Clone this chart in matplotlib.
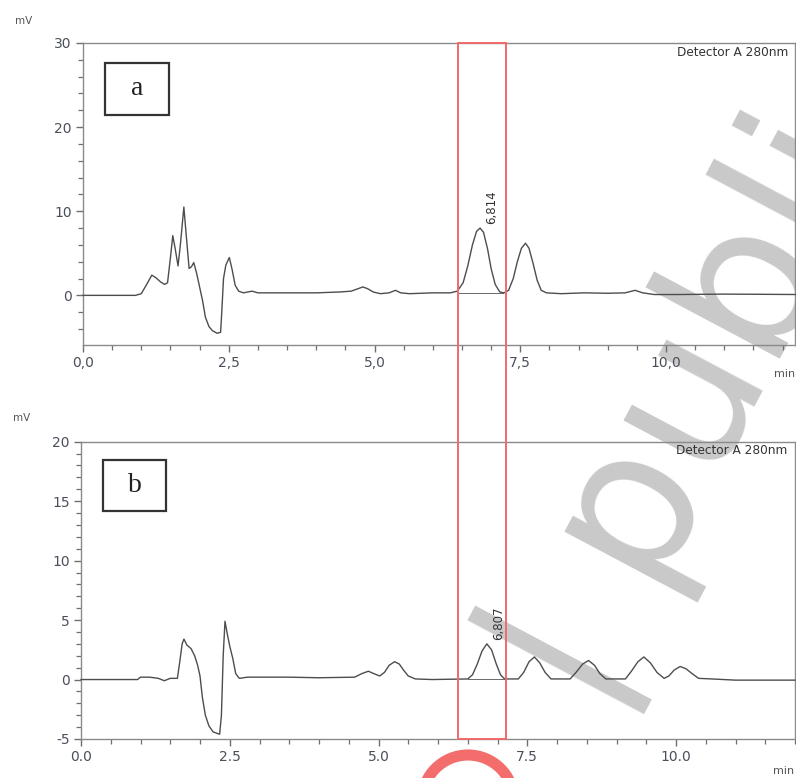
import matplotlib
matplotlib.use("Agg")
import matplotlib.pyplot as plt
from matplotlib.patches import Rectangle, Arc
from matplotlib.transforms import blended_transform_factory
from matplotlib.ticker import MultipleLocator, FuncFormatter

# ---- chromatogram a (Detector A 280nm) ----
time_a = [0.00, 0.90, 1.00, 1.10, 1.18, 1.25, 1.33, 1.40, 1.45, 1.50, 1.54, 1.58,
          1.63, 1.67, 1.73, 1.77, 1.82, 1.86, 1.90, 1.95, 2.00, 2.05, 2.10, 2.16,
          2.22, 2.30, 2.36, 2.38, 2.41, 2.45, 2.51, 2.56, 2.61, 2.67, 2.75, 2.90,
          3.00, 3.50, 4.00, 4.40, 4.60, 4.72, 4.80, 4.88, 4.98, 5.10, 5.25, 5.36,
          5.45, 5.60, 6.00, 6.30, 6.42, 6.52, 6.60, 6.68, 6.75, 6.81, 6.87, 6.94,
          7.00, 7.07, 7.15, 7.22, 7.30, 7.38, 7.45, 7.52, 7.59, 7.65, 7.72, 7.79,
          7.86, 7.95, 8.20, 8.60, 9.00, 9.30, 9.47, 9.60, 9.80, 10.20, 11.00, 12.30]
signal_a = [0.0, 0.0, 0.2, 1.4, 2.4, 2.1, 1.6, 1.3, 1.5, 4.5, 7.1, 5.6,
            3.5, 6.0, 10.5, 7.2, 3.2, 3.4, 3.9, 2.6, 1.0, -0.6, -2.6, -3.7,
            -4.2, -4.5, -4.4, -2.0, 2.0, 3.6, 4.5, 3.0, 1.2, 0.5, 0.3, 0.5,
            0.3, 0.3, 0.3, 0.4, 0.5, 0.8, 1.0, 0.8, 0.4, 0.2, 0.3, 0.6,
            0.3, 0.2, 0.3, 0.3, 0.5, 1.5, 3.5, 6.0, 7.6, 8.0, 7.5, 5.5,
            3.2, 1.3, 0.4, 0.3, 0.6, 2.0, 4.0, 5.6, 6.2, 5.6, 3.8, 1.8,
            0.6, 0.3, 0.2, 0.3, 0.25, 0.3, 0.6, 0.3, 0.1, 0.1, 0.15, 0.1]
peak_a = {"label": "6,814", "time": 6.81, "height": 8.0, "start": 6.42, "end": 7.20, "base": 0.3}

# ---- chromatogram b (Detector A 280nm) ----
time_b = [0.00, 0.95, 1.00, 1.15, 1.30, 1.40, 1.50, 1.62, 1.66, 1.70, 1.73, 1.78,
          1.85, 1.91, 1.96, 2.00, 2.04, 2.09, 2.15, 2.22, 2.33, 2.36, 2.39, 2.42,
          2.46, 2.50, 2.55, 2.60, 2.66, 2.80, 3.50, 4.00, 4.60, 4.72, 4.83, 4.92,
          5.02, 5.10, 5.18, 5.27, 5.35, 5.42, 5.50, 5.62, 5.90, 6.50, 6.58, 6.66,
          6.74, 6.82, 6.90, 6.98, 7.05, 7.12, 7.35, 7.44, 7.53, 7.62, 7.71, 7.80,
          7.90, 8.22, 8.32, 8.43, 8.53, 8.63, 8.72, 8.82, 9.15, 9.25, 9.36, 9.46,
          9.57, 9.68, 9.80, 9.88, 9.97, 10.07, 10.17, 10.27, 10.38, 10.60, 11.00, 12.00]
signal_b = [0.0, 0.0, 0.2, 0.2, 0.1, -0.1, 0.1, 0.1, 1.5, 3.0, 3.4, 2.9,
            2.6, 2.0, 1.2, 0.3, -1.5, -3.0, -3.9, -4.4, -4.6, -3.0, 2.0, 4.9,
            3.8, 2.8, 1.8, 0.5, 0.1, 0.2, 0.2, 0.15, 0.2, 0.5, 0.7, 0.5,
            0.3, 0.6, 1.2, 1.5, 1.3, 0.8, 0.3, 0.05, 0.0, 0.05, 0.4, 1.3,
            2.4, 3.0, 2.5, 1.3, 0.4, 0.05, 0.05, 0.6, 1.5, 1.9, 1.4, 0.6,
            0.05, 0.05, 0.6, 1.3, 1.6, 1.2, 0.5, 0.05, 0.05, 0.7, 1.5, 1.9,
            1.4, 0.6, 0.1, 0.3, 0.8, 1.1, 0.9, 0.5, 0.1, 0.05, -0.05, -0.05]
peak_b = {"label": "6,807", "time": 6.82, "height": 3.0, "start": 6.50, "end": 7.12, "base": 0.05}

# highlighted retention window (min), shared by both runs
window_start = 6.43
window_end = 7.25

W, H = 796, 778
fig = plt.figure(figsize=(W / 100, H / 100), dpi=100)
fig.patch.set_facecolor("white")

def px_axes(left, top, right, bottom):
    return [left / W, 1 - bottom / H, (right - left) / W, (bottom - top) / H]

ax1 = fig.add_axes(px_axes(83, 43, 795, 345))
ax2 = fig.add_axes(px_axes(81, 441.7, 795, 739))

spine_col = "#8a8a8a"
tick_col = "#6f6f6f"
label_col = "#4a4f5a"
trace_col = "#4d4d4d"

def style(ax, xmax, ylim, ymajor, yminor, fmt):
    ax.patch.set_visible(False)
    ax.set_xlim(0, xmax)
    ax.set_ylim(*ylim)
    for s in ax.spines.values():
        s.set_color(spine_col)
        s.set_linewidth(1.0)
    ax.xaxis.set_major_locator(MultipleLocator(2.5))
    ax.xaxis.set_minor_locator(MultipleLocator(0.5))
    ax.yaxis.set_major_locator(MultipleLocator(ymajor))
    ax.yaxis.set_minor_locator(MultipleLocator(yminor))
    ax.xaxis.set_major_formatter(FuncFormatter(fmt))
    ax.yaxis.set_major_formatter(FuncFormatter(lambda v, p: f"{v:g}"))
    ax.tick_params(which="major", direction="out", length=5, width=1.0,
                   color=tick_col, labelsize=10, labelcolor=label_col, pad=3)
    ax.tick_params(which="minor", direction="out", length=3.5, width=0.9, color=tick_col)

style(ax1, (795 - 83) / 58.3, (-5.9, 30), 10, 2,
      lambda v, p: f"{v:.1f}".replace(".", ","))
style(ax2, (795 - 81) / 59.5, (-5, 20), 5, 1,
      lambda v, p: f"{v:.1f}")

for ax, t, s, pk, pad in ((ax1, time_a, signal_a, peak_a, 0.45),
                          (ax2, time_b, signal_b, peak_b, 0.3)):
    ax.plot(t, s, color=trace_col, lw=1.0, zorder=3, clip_on=False)
    # integration baseline under the identified peak
    ax.plot([pk["start"], pk["end"]], [pk["base"], pk["base"]], color="#6a6a6a", lw=0.7, zorder=2)
    ax.text(pk["time"] + 0.2, pk["height"] + pad, pk["label"], rotation=90,
            ha="center", va="bottom", fontsize=8.5, color="#333333", zorder=4)

# panel tags
for ax, tag, box in ((ax1, "a", (0.031, 0.762, 0.090, 0.172)),
                     (ax2, "b", (0.031, 0.768, 0.088, 0.170))):
    ax.add_patch(Rectangle(box[:2], box[2], box[3], transform=ax.transAxes,
                           fill=False, ec="#333333", lw=1.6, zorder=5))
    ax.text(box[0] + box[2] / 2, box[1] + box[3] / 2, tag, transform=ax.transAxes,
            ha="center", va="center", fontsize=20, family="Liberation Serif",
            color="#222222", zorder=5)

ax1.text(677 / W, 1 - 53 / H, "Detector A 280nm", transform=fig.transFigure,
         ha="left", va="center", fontsize=8.7, color="#333333")
ax2.text(676 / W, 1 - 450 / H, "Detector A 280nm", transform=fig.transFigure,
         ha="left", va="center", fontsize=8.7, color="#333333")

# axis unit labels
fig.text(24 / W, 1 - 21 / H, "mV", ha="center", va="center", fontsize=7.5, color="#555555")
fig.text(22 / W, 1 - 418 / H, "mV", ha="center", va="center", fontsize=7.5, color="#555555")
fig.text(785 / W, 1 - 374 / H, "min", ha="center", va="center", fontsize=8, color="#555555")
fig.text(784 / W, 1 - 771 / H, "min", ha="center", va="center", fontsize=8, color="#555555")

# retention window spanning both runs
top_y = 1 - 43 / H
bot_y = 1 - 739 / H
win = Rectangle((window_start, bot_y), window_end - window_start, top_y - bot_y,
                transform=blended_transform_factory(ax1.transData, fig.transFigure),
                fill=False, ec="#f06a6a", lw=1.4, zorder=10, clip_on=False)
fig.add_artist(win)

# watermark
fig.text(592 / W, 1 - 714 / H, "| publi", rotation=62, rotation_mode="anchor",
         ha="left", va="baseline", fontsize=144, family="DejaVu Sans",
         color="#c9c9c9", zorder=-1)
fig.add_artist(Arc((468 / W, 1 - 801 / H), 92 / W, 92 / H, theta1=0, theta2=180,
                   transform=fig.transFigure, lw=8, color="#f36d6d", zorder=-1))

fig.savefig("out.png", dpi=100, facecolor="white")
